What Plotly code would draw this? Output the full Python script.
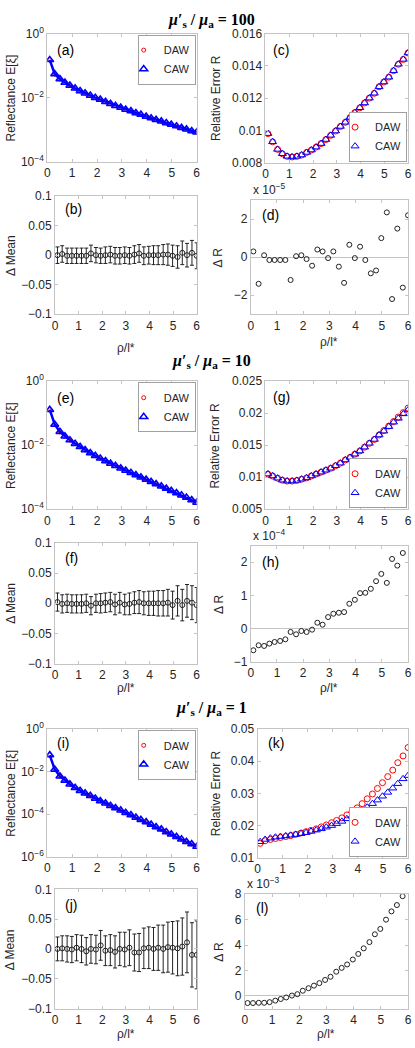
import plotly.graph_objects as go

W, H = 415, 1048

# ---------------- data ----------------
rho = [0.10, 0.30, 0.51, 0.71, 0.91, 1.12, 1.32, 1.52, 1.73, 1.93, 2.13, 2.34, 2.54, 2.74, 2.95,
       3.15, 3.36, 3.56, 3.76, 3.97, 4.17, 4.37, 4.58, 4.78, 4.98, 5.19, 5.39, 5.59, 5.80, 6.00]

# log10 of reflectance E[xi]
log_refl_100 = [-0.82, -1.26, -1.42, -1.53, -1.62, -1.71, -1.79, -1.86, -1.93, -2.00, -2.06, -2.13,
                -2.19, -2.25, -2.31, -2.37, -2.42, -2.48, -2.53, -2.59, -2.64, -2.69, -2.74, -2.79,
                -2.84, -2.89, -2.94, -2.99, -3.04, -3.08]
log_refl_10 = [-0.89, -1.35, -1.58, -1.72, -1.84, -1.95, -2.05, -2.15, -2.24, -2.33, -2.41, -2.49,
               -2.57, -2.64, -2.72, -2.79, -2.86, -2.93, -3.00, -3.07, -3.14, -3.21, -3.28, -3.35,
               -3.42, -3.49, -3.56, -3.63, -3.71, -3.79]
log_refl_1 = [-1.23, -1.90, -2.22, -2.42, -2.60, -2.76, -2.90, -3.02, -3.14, -3.26, -3.38, -3.49,
              -3.60, -3.71, -3.82, -3.93, -4.04, -4.15, -4.26, -4.37, -4.48, -4.60, -4.71, -4.83,
              -4.94, -5.06, -5.17, -5.29, -5.40, -5.52]

# relative error R
relerr_100_daw = [0.00980, 0.00929, 0.00882, 0.00855, 0.00839, 0.00835, 0.00839, 0.00847, 0.00863,
                  0.00878, 0.00896, 0.00918, 0.00943, 0.00969, 0.00996, 0.01024, 0.01050, 0.01080,
                  0.01110, 0.01140, 0.01170, 0.01200, 0.01230, 0.01270, 0.01300, 0.01330, 0.01370,
                  0.01410, 0.01440, 0.01480]
relerr_100_caw = [0.00980, 0.00929, 0.00882, 0.00855, 0.00839, 0.00835, 0.00839, 0.00847, 0.00863,
                  0.00878, 0.00896, 0.00918, 0.00943, 0.00969, 0.00996, 0.01024, 0.01050, 0.01080,
                  0.01110, 0.01140, 0.01170, 0.01200, 0.01230, 0.01270, 0.01300, 0.01330, 0.01370,
                  0.01410, 0.01440, 0.01480]
relerr_10_daw = [0.0105, 0.0102, 0.00985, 0.00954, 0.0094, 0.0094, 0.0095, 0.0097, 0.0099, 0.0102,
                 0.0105, 0.0108, 0.0111, 0.0114, 0.0118, 0.0122, 0.0127, 0.0131, 0.0136, 0.0141,
                 0.0147, 0.0153, 0.0159, 0.0166, 0.0173, 0.0180, 0.0187, 0.0194, 0.0201, 0.0208]
relerr_10_caw = [0.0105, 0.0102, 0.00985, 0.00954, 0.0094, 0.0094, 0.0095, 0.0097, 0.0099, 0.0102,
                 0.0105, 0.0108, 0.0111, 0.0114, 0.0118, 0.0122, 0.0127, 0.0131, 0.0136, 0.0141,
                 0.0147, 0.0153, 0.0159, 0.0166, 0.0172, 0.0179, 0.0186, 0.0192, 0.0199, 0.0205]
relerr_1_daw = [0.0145, 0.0153, 0.0157, 0.0160, 0.0163, 0.0166, 0.0169, 0.0173, 0.0177, 0.0181,
                0.0185, 0.0190, 0.0196, 0.0202, 0.0209, 0.0216, 0.0224, 0.0233, 0.0243, 0.0255,
                0.0268, 0.0283, 0.0298, 0.0315, 0.0333, 0.0352, 0.0372, 0.0395, 0.0416, 0.0442]
relerr_1_caw = [0.0150, 0.0157, 0.0161, 0.0164, 0.0166, 0.0168, 0.0170, 0.0172, 0.0175, 0.0178,
                0.0182, 0.0186, 0.0190, 0.0195, 0.0200, 0.0206, 0.0213, 0.0221, 0.0229, 0.0238,
                0.0247, 0.0257, 0.0268, 0.0279, 0.0291, 0.0303, 0.0316, 0.0330, 0.0345, 0.0355]

# Delta mean with error bars
dmean_100 = [0.000, 0.002, -0.001, -0.001, -0.001, -0.001, -0.001, 0.003, 0.000, -0.001, 0.000,
             0.001, -0.001, -0.001, 0.000, -0.001, 0.001, 0.003, -0.001, 0.000, 0.000, 0.000, 0.001,
             0.001, -0.001, -0.003, 0.004, 0.000, 0.004, -0.001]
dmean_100_err = [0.014, 0.014, 0.013, 0.013, 0.013, 0.013, 0.013, 0.014, 0.013, 0.013, 0.014, 0.014,
                 0.014, 0.014, 0.014, 0.014, 0.015, 0.015, 0.015, 0.015, 0.016, 0.016, 0.017, 0.018,
                 0.018, 0.019, 0.020, 0.020, 0.021, 0.022]
dmean_10 = [0.002, -0.001, 0.000, -0.001, -0.001, -0.001, 0.000, -0.004, 0.000, 0.000, 0.001, 0.002,
            -0.002, 0.001, -0.002, -0.001, 0.001, 0.002, 0.000, 0.000, 0.000, 0.000, 0.000, 0.001,
            -0.003, 0.004, -0.003, 0.004, 0.001, -0.003]
dmean_10_err = [0.015, 0.015, 0.015, 0.015, 0.015, 0.015, 0.015, 0.015, 0.015, 0.016, 0.016, 0.016,
                0.017, 0.017, 0.017, 0.018, 0.018, 0.019, 0.019, 0.020, 0.020, 0.021, 0.021, 0.022,
                0.023, 0.025, 0.026, 0.027, 0.028, 0.029]
dmean_1 = [0.000, 0.001, 0.000, -0.001, 0.002, 0.000, -0.004, 0.000, -0.001, 0.006, -0.003, -0.002,
           -0.005, 0.000, -0.001, 0.002, -0.006, -0.006, 0.001, 0.002, 0.000, 0.002, 0.000, 0.003,
           0.002, 0.001, 0.004, 0.011, -0.010, -0.010]
dmean_1_err = [0.020, 0.021, 0.022, 0.022, 0.022, 0.023, 0.023, 0.024, 0.024, 0.025, 0.025, 0.026,
               0.027, 0.028, 0.029, 0.030, 0.031, 0.032, 0.034, 0.035, 0.036, 0.038, 0.040, 0.042,
               0.044, 0.046, 0.048, 0.051, 0.054, 0.057]

# Delta R
dR_100 = [0.30e-5, -1.40e-5, 0.10e-5, -0.15e-5, -0.15e-5, -0.15e-5, -0.15e-5, -1.20e-5, 0.05e-5,
          0.10e-5, -0.10e-5, -0.45e-5, 0.40e-5, 0.30e-5, -0.05e-5, 0.30e-5, -0.50e-5, -1.35e-5,
          0.65e-5, -0.05e-5, 0.55e-5, -0.15e-5, -0.85e-5, -0.70e-5, 1.00e-5, 2.35e-5, -2.20e-5,
          1.50e-5, -1.60e-5, 2.20e-5]
dR_10 = [-0.65e-4, -0.50e-4, -0.52e-4, -0.45e-4, -0.40e-4, -0.37e-4, -0.32e-4, -0.10e-4, -0.17e-4,
         -0.07e-4, -0.10e-4, -0.03e-4, 0.18e-4, 0.12e-4, 0.35e-4, 0.45e-4, 0.48e-4, 0.50e-4,
         0.75e-4, 0.87e-4, 1.07e-4, 1.08e-4, 1.20e-4, 1.43e-4, 1.65e-4, 1.38e-4, 2.10e-4, 1.90e-4,
         2.28e-4]
dR_1 = [-0.57e-3, -0.57e-3, -0.55e-3, -0.55e-3, -0.50e-3, -0.38e-3, -0.25e-3, -0.13e-3, 0.02e-3,
        0.13e-3, 0.40e-3, 0.60e-3, 0.80e-3, 1.00e-3, 1.25e-3, 1.50e-3, 1.90e-3, 2.20e-3, 2.47e-3,
        2.86e-3, 3.30e-3, 3.74e-3, 4.23e-3, 4.85e-3, 5.27e-3, 6.00e-3, 6.65e-3, 7.15e-3, 7.85e-3]

ticks_x = [0, 1, 2, 3, 4, 5, 6]
titles = ["100", "10", "1"]

# ---------------- layout helpers ----------------
FONT = "Liberation Sans, Arial, sans-serif"
BOX = "#c4c4c4"
RED = "#ff0000"
BLUE = "#0000ff"

panels = {
    'a': (45, 197, 25, 155), 'c': (267, 412, 25, 156), 'b': (53, 197, 190, 310), 'd': (252, 412, 194, 310),
    'e': (45, 197, 378, 508), 'g': (267, 412, 378, 508), 'f': (53, 197, 542, 665), 'h': (252, 412, 545, 663),
    'i': (45, 197, 731, 861), 'k': (259, 412, 731, 862), 'j': (53, 197, 894, 1015), 'l': (246, 412, 899, 1015),
}
order = ['a', 'c', 'b', 'd', 'e', 'g', 'f', 'h', 'i', 'k', 'j', 'l']


def idx(key):
    return order.index(key) + 1


def refs(key):
    n = idx(key)
    return ('x' if n == 1 else f'x{n}'), ('y' if n == 1 else f'y{n}')


def px(x):
    return x / W


def py(y):
    return 1 - y / H


fig = go.Figure()
layout = dict(width=W, height=H, margin=dict(l=0, r=0, t=0, b=0), paper_bgcolor='white',
              plot_bgcolor='white', showlegend=True, hovermode=False)

axis_common = dict(showline=True, linecolor=BOX, linewidth=1, mirror='ticks', ticks='inside',
                   ticklen=3, tickcolor=BOX, showgrid=False, zeroline=False,
                   tickfont=dict(family=FONT, size=12, color='#262626'))

yconf = {
    'a': dict(type='log', range=[-4, 0], tickvals=[1e-4, 1e-2, 1],
              ticktext=['10<sup>−4</sup>', '10<sup>−2</sup>', '10<sup>0</sup>']),
    'e': dict(type='log', range=[-4, 0], tickvals=[1e-4, 1e-2, 1],
              ticktext=['10<sup>−4</sup>', '10<sup>−2</sup>', '10<sup>0</sup>']),
    'i': dict(type='log', range=[-6, 0], tickvals=[1e-6, 1e-4, 1e-2, 1],
              ticktext=['10<sup>−6</sup>', '10<sup>−4</sup>', '10<sup>−2</sup>', '10<sup>0</sup>']),
    'c': dict(range=[0.008, 0.016], tickvals=[0.008, 0.010, 0.012, 0.014, 0.016],
              ticktext=['0.008', '0.01', '0.012', '0.014', '0.016']),
    'g': dict(range=[0.005, 0.025], tickvals=[0.005, 0.010, 0.015, 0.020, 0.025],
              ticktext=['0.005', '0.01', '0.015', '0.02', '0.025']),
    'k': dict(range=[0.01, 0.05], tickvals=[0.01, 0.02, 0.03, 0.04, 0.05],
              ticktext=['0.01', '0.02', '0.03', '0.04', '0.05']),
    'b': dict(range=[-0.1, 0.1], tickvals=[-0.1, -0.05, 0, 0.05, 0.1],
              ticktext=['−0.1', '−0.05', '0', '0.05', '0.1']),
    'f': dict(range=[-0.1, 0.1], tickvals=[-0.1, -0.05, 0, 0.05, 0.1],
              ticktext=['−0.1', '−0.05', '0', '0.05', '0.1']),
    'j': dict(range=[-0.1, 0.1], tickvals=[-0.1, -0.05, 0, 0.05, 0.1],
              ticktext=['−0.1', '−0.05', '0', '0.05', '0.1']),
    'd': dict(range=[-3e-5, 3e-5], tickvals=[-2e-5, 0, 2e-5], ticktext=['−2', '0', '2'],
              zeroline=True, zerolinecolor=BOX, zerolinewidth=1),
    'h': dict(range=[-1e-4, 2.5e-4], tickvals=[-1e-4, 0, 1e-4, 2e-4], ticktext=['−1', '0', '1', '2'],
              zeroline=True, zerolinecolor=BOX, zerolinewidth=1),
    'l': dict(range=[-1e-3, 8e-3], tickvals=[0, 2e-3, 4e-3, 6e-3, 8e-3], ticktext=['0', '2', '4', '6', '8'],
              zeroline=True, zerolinecolor=BOX, zerolinewidth=1),
}

for key in order:
    x0, x1, y0, y1 = panels[key]
    n = idx(key)
    xname = 'xaxis' if n == 1 else f'xaxis{n}'
    yname = 'yaxis' if n == 1 else f'yaxis{n}'
    xr, yr = refs(key)
    xa = dict(axis_common, domain=[px(x0), px(x1)], range=[0, 6], tickvals=ticks_x, anchor=yr)
    ya = dict(axis_common, domain=[py(y1), py(y0)], anchor=xr)
    ya.update(yconf[key])
    layout[xname] = xa
    layout[yname] = ya

# ---------------- traces ----------------
refl_sets = [('a', log_refl_100, 'legend'), ('e', log_refl_10, 'legend3'), ('i', log_refl_1, 'legend5')]
for key, logs, lg in refl_sets:
    xr, yr = refs(key)
    vals = [10 ** v for v in logs]
    fig.add_trace(go.Scatter(x=rho, y=vals, mode='markers', name='DAW', legend=lg, xaxis=xr, yaxis=yr,
                             marker=dict(symbol='circle-open', size=4, color=RED, line=dict(width=1, color=RED))))
    fig.add_trace(go.Scatter(x=rho, y=vals, mode='lines', showlegend=False, xaxis=xr, yaxis=yr,
                             line=dict(color=BLUE, width=2.5)))
    fig.add_trace(go.Scatter(x=rho, y=vals, mode='markers', name='CAW', legend=lg, xaxis=xr, yaxis=yr,
                             marker=dict(symbol='triangle-up-open', size=7, color=BLUE,
                                         line=dict(width=1.5, color=BLUE))))

rel_sets = [('c', relerr_100_daw, relerr_100_caw, 'legend2'), ('g', relerr_10_daw, relerr_10_caw, 'legend4'),
            ('k', relerr_1_daw, relerr_1_caw, 'legend6')]
for key, daw, caw, lg in rel_sets:
    xr, yr = refs(key)
    fig.add_trace(go.Scatter(x=rho, y=daw, mode='markers', name='DAW', legend=lg, xaxis=xr, yaxis=yr,
                             marker=dict(symbol='circle-open', size=6, color=RED, line=dict(width=1, color=RED))))
    fig.add_trace(go.Scatter(x=rho, y=caw, mode='markers', name='CAW', legend=lg, xaxis=xr, yaxis=yr,
                             marker=dict(symbol='triangle-up-open', size=7, color=BLUE,
                                         line=dict(width=1, color=BLUE))))

mean_sets = [('b', dmean_100, dmean_100_err), ('f', dmean_10, dmean_10_err), ('j', dmean_1, dmean_1_err)]
for key, m, e in mean_sets:
    xr, yr = refs(key)
    fig.add_trace(go.Scatter(x=rho, y=m, mode='markers', showlegend=False, xaxis=xr, yaxis=yr,
                             error_y=dict(type='data', array=e, visible=True, color='#222222',
                                          thickness=1, width=2),
                             marker=dict(symbol='circle-open', size=5, color='#222222',
                                         line=dict(width=1, color='#222222'))))

dr_sets = [('d', dR_100), ('h', dR_10), ('l', dR_1)]
for key, d in dr_sets:
    xr, yr = refs(key)
    fig.add_trace(go.Scatter(x=rho[:len(d)], y=d, mode='markers', showlegend=False, xaxis=xr, yaxis=yr,
                             marker=dict(symbol='circle-open', size=5, color='#222222',
                                         line=dict(width=1, color='#222222'))))

# ---------------- legends ----------------
leg_common = dict(bgcolor='white', bordercolor='#a0a0a0', borderwidth=1,
                  font=dict(family=FONT, size=11, color='#262626'), tracegroupgap=0,
                  itemwidth=30, indentation=-15, xref='paper', yref='paper')
leg_pos = {
    'legend': ('a', 'top'), 'legend2': ('c', 'bottom'), 'legend3': ('e', 'top'),
    'legend4': ('g', 'bottom'), 'legend5': ('i', 'top'), 'legend6': ('k', 'bottom'),
}
for lg, (key, where) in leg_pos.items():
    x0, x1, y0, y1 = panels[key]
    if where == 'top':
        layout[lg] = dict(leg_common, x=px(x1 - 1), xanchor='right', y=py(y0 + 1), yanchor='top')
    else:
        layout[lg] = dict(leg_common, x=px(x1 - 1), xanchor='right', y=py(y1 - 1), yanchor='bottom')

# ---------------- annotations ----------------
ann = []
title_y = [12, 358, 710]
for t, yy in zip(titles, title_y):
    ann.append(dict(text=f"<b><i>μ</i>′<sub>s</sub> / <i>μ</i><sub>a</sub> = {t}</b>", x=px(212), y=py(yy),
                    xref='paper', yref='paper', showarrow=False, xanchor='center', yanchor='middle',
                    font=dict(family='Liberation Serif, DejaVu Serif, serif', size=16, color='black')))

label_pos = {'a': (53, 42), 'c': (273, 42), 'b': (61, 203), 'd': (261, 209),
             'e': (53, 395), 'g': (273, 394), 'f': (61, 558), 'h': (261, 562),
             'i': (53, 745), 'k': (268, 745), 'j': (61, 910), 'l': (255, 913)}
for key, (lx, ly) in label_pos.items():
    ann.append(dict(text=f"({key})", x=px(lx), y=py(ly), xref='paper', yref='paper', showarrow=False,
                    xanchor='left', yanchor='middle', font=dict(family=FONT, size=14, color='black')))

ytitles = [
    ("Reflectance E[ξ]", 8, 90), ("Relative Error R", 216, 90), ("Δ Mean", 8, 250), ("Δ R", 219, 252),
    ("Reflectance E[ξ]", 8, 443), ("Relative Error R", 216, 443), ("Δ Mean", 8, 603), ("Δ R", 219, 604),
    ("Reflectance E[ξ]", 8, 796), ("Relative Error R", 216, 796), ("Δ Mean", 8, 955), ("Δ R", 220, 957),
]
for txt, xx, yy in ytitles:
    ann.append(dict(text=txt, x=px(xx), y=py(yy), xref='paper', yref='paper', showarrow=False,
                    textangle=-90, xanchor='center', yanchor='middle',
                    font=dict(family=FONT, size=12, color='#262626')))

xtitles = [(125, 344), (332, 338), (125, 690), (332, 690), (125, 1041), (329, 1041)]
for xx, yy in xtitles:
    ann.append(dict(text="ρ/l*", x=px(xx), y=py(yy), xref='paper', yref='paper', showarrow=False,
                    xanchor='center', yanchor='middle', font=dict(family=FONT, size=12, color='#262626')))

mults = [("x 10<sup>−5</sup>", 'd'), ("x 10<sup>−4</sup>", 'h'), ("x 10<sup>−3</sup>", 'l')]
for txt, key in mults:
    x0, x1, y0, y1 = panels[key]
    ann.append(dict(text=txt, x=px(x0), y=py(y0 - 1), xref='paper', yref='paper', showarrow=False,
                    xanchor='left', yanchor='bottom', font=dict(family=FONT, size=12, color='#262626')))

layout['annotations'] = ann
fig.update_layout(**layout)
fig.write_html("out.html", config={"displayModeBar": False},
               post_script="document.body.style.margin='0';document.body.style.overflow='hidden';")
